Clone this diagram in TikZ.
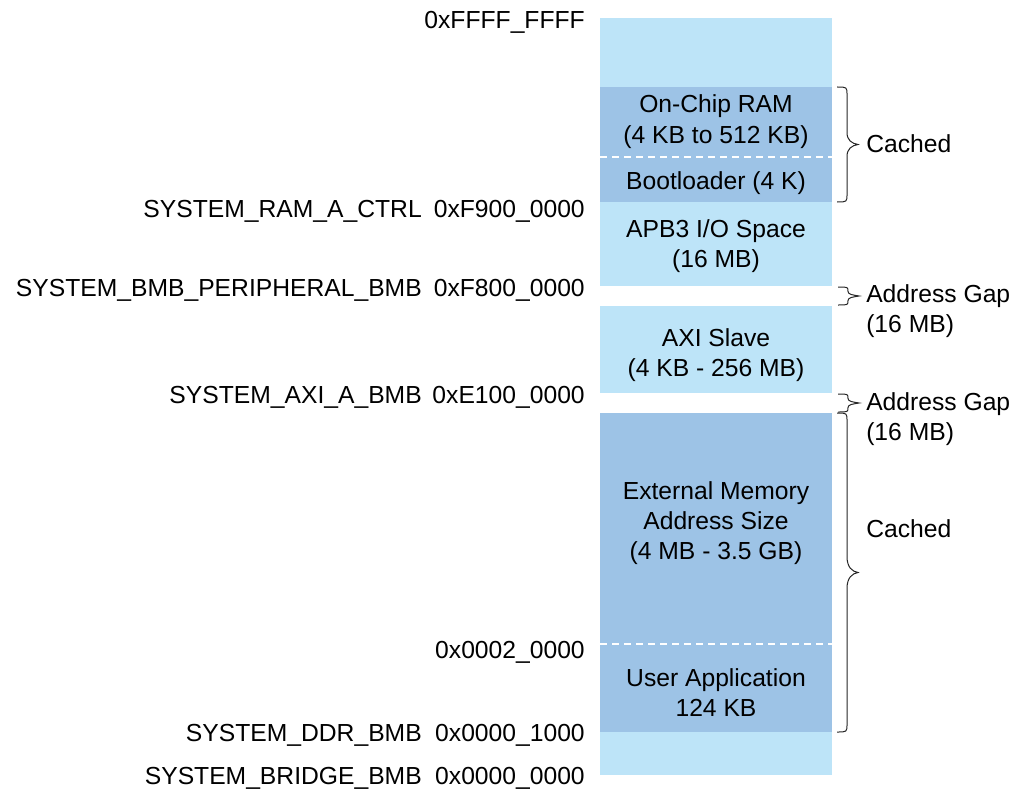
\documentclass[tikz,border=0pt]{standalone}
\usepackage{fontspec}
\setmainfont{Liberation Sans}
\definecolor{lightmem}{HTML}{BDE4F8}
\definecolor{darkmem}{HTML}{9DC3E6}
\newcommand\membrace[5]{% x0, y0, y1, r, tip r
  \draw[brc] (#1,#2) .. controls ({#1+10},#2) .. ({#1+10},{#2+#4})
    -- ({#1+10},{(#2+#3)/2-#5}) .. controls ({#1+10},{(#2+#3)/2-#5/3}) and ({#1+15},{(#2+#3)/2-1}) .. ({#1+21},{(#2+#3)/2})
    .. controls ({#1+15},{(#2+#3)/2+1}) and ({#1+10},{(#2+#3)/2+#5/3}) .. ({#1+10},{(#2+#3)/2+#5})
    -- ({#1+10},{#3-#4}) .. controls ({#1+10},#3) .. (#1,#3);}
\begin{document}
\begin{tikzpicture}[x=0.75pt,y=-0.75pt,
  lbl/.style={inner sep=0pt, font=\fontsize{18.5}{22.5}\selectfont},
  addr/.style={lbl, anchor=base east},
  blk/.style={lbl, anchor=base},
  side/.style={lbl, anchor=base west},
  sep/.style={white, line width=1.1pt, dash pattern=on 5.5pt off 3.5pt},
  brc/.style={black!85, line width=0.75pt}]
\useasboundingbox (0,0) rectangle (1016,788);
% memory blocks
\fill[lightmem] (600,18) rectangle (832,87);
\fill[darkmem] (600,87) rectangle (832,202);
\fill[lightmem] (600,202) rectangle (832,286);
\fill[lightmem] (600,306) rectangle (832,393);
\fill[darkmem] (600,413) rectangle (832,732);
\fill[lightmem] (600,732) rectangle (832,775);
\draw[sep] (600,157) -- (832,157);
\draw[sep] (600,644) -- (832,644);
% block texts
\node[blk] (ocr1) at (716,113) {On-Chip RAM};
\node[blk] (ocr2) at (716,143) {(4 KB to 512 KB)};
\node[blk] (boot) at (716,189) {Bootloader (4 K)};
\node[blk] (apb1) at (716,237) {APB3 I/O Space};
\node[blk] (apb2) at (716,267) {(16 MB)};
\node[blk] (axi1) at (716,346) {AXI Slave};
\node[blk] (axi2) at (716,376) {(4 KB - 256 MB)};
\node[blk] (ext1) at (716,499) {External Memory};
\node[blk] (ext2) at (716,529) {Address Size};
\node[blk] (ext3) at (716,559) {(4 MB - 3.5 GB)};
\node[blk] (usr1) at (716,686) {User Application};
\node[blk] (usr2) at (716,716) {124 KB};
% addresses
\node[addr] (hTop) at (585,29) {0xFFFF\_FFFF};
\node[addr] (hRam) at (585,217) {0xF900\_0000};
\node[addr] (hPer) at (585,296) {0xF800\_0000};
\node[addr] (hAxi) at (585,403) {0xE100\_0000};
\node[addr] (hUsr) at (585,658) {0x0002\_0000};
\node[addr] (hDdr) at (585,741) {0x0000\_1000};
\node[addr] (hBrg) at (585,784) {0x0000\_0000};
\node[addr] (nRam) at (422,217) {SYSTEM\_RAM\_A\_CTRL};
\node[addr] (nPer) at (422,296) {SYSTEM\_BMB\_PERIPHERAL\_BMB};
\node[addr] (nAxi) at (422,403) {SYSTEM\_AXI\_A\_BMB};
\node[addr] (nDdr) at (422,741) {SYSTEM\_DDR\_BMB};
\node[addr] (nBrg) at (422,784) {SYSTEM\_BRIDGE\_BMB};
% braces
\membrace{837}{87}{202}{8}{12}
\membrace{838}{287}{305}{4.5}{4.5}
\membrace{838}{394}{412}{4.5}{4.5}
\membrace{837}{413}{732}{8}{16}
% side labels
\node[side] (c1) at (866,152) {Cached};
\node[side] (g1a) at (866,302) {Address Gap};
\node[side] (g1b) at (866,332) {(16 MB)};
\node[side] (g2a) at (866,410) {Address Gap};
\node[side] (g2b) at (866,440) {(16 MB)};
\node[side] (c2) at (866,537) {Cached};
\end{tikzpicture}
\end{document}
